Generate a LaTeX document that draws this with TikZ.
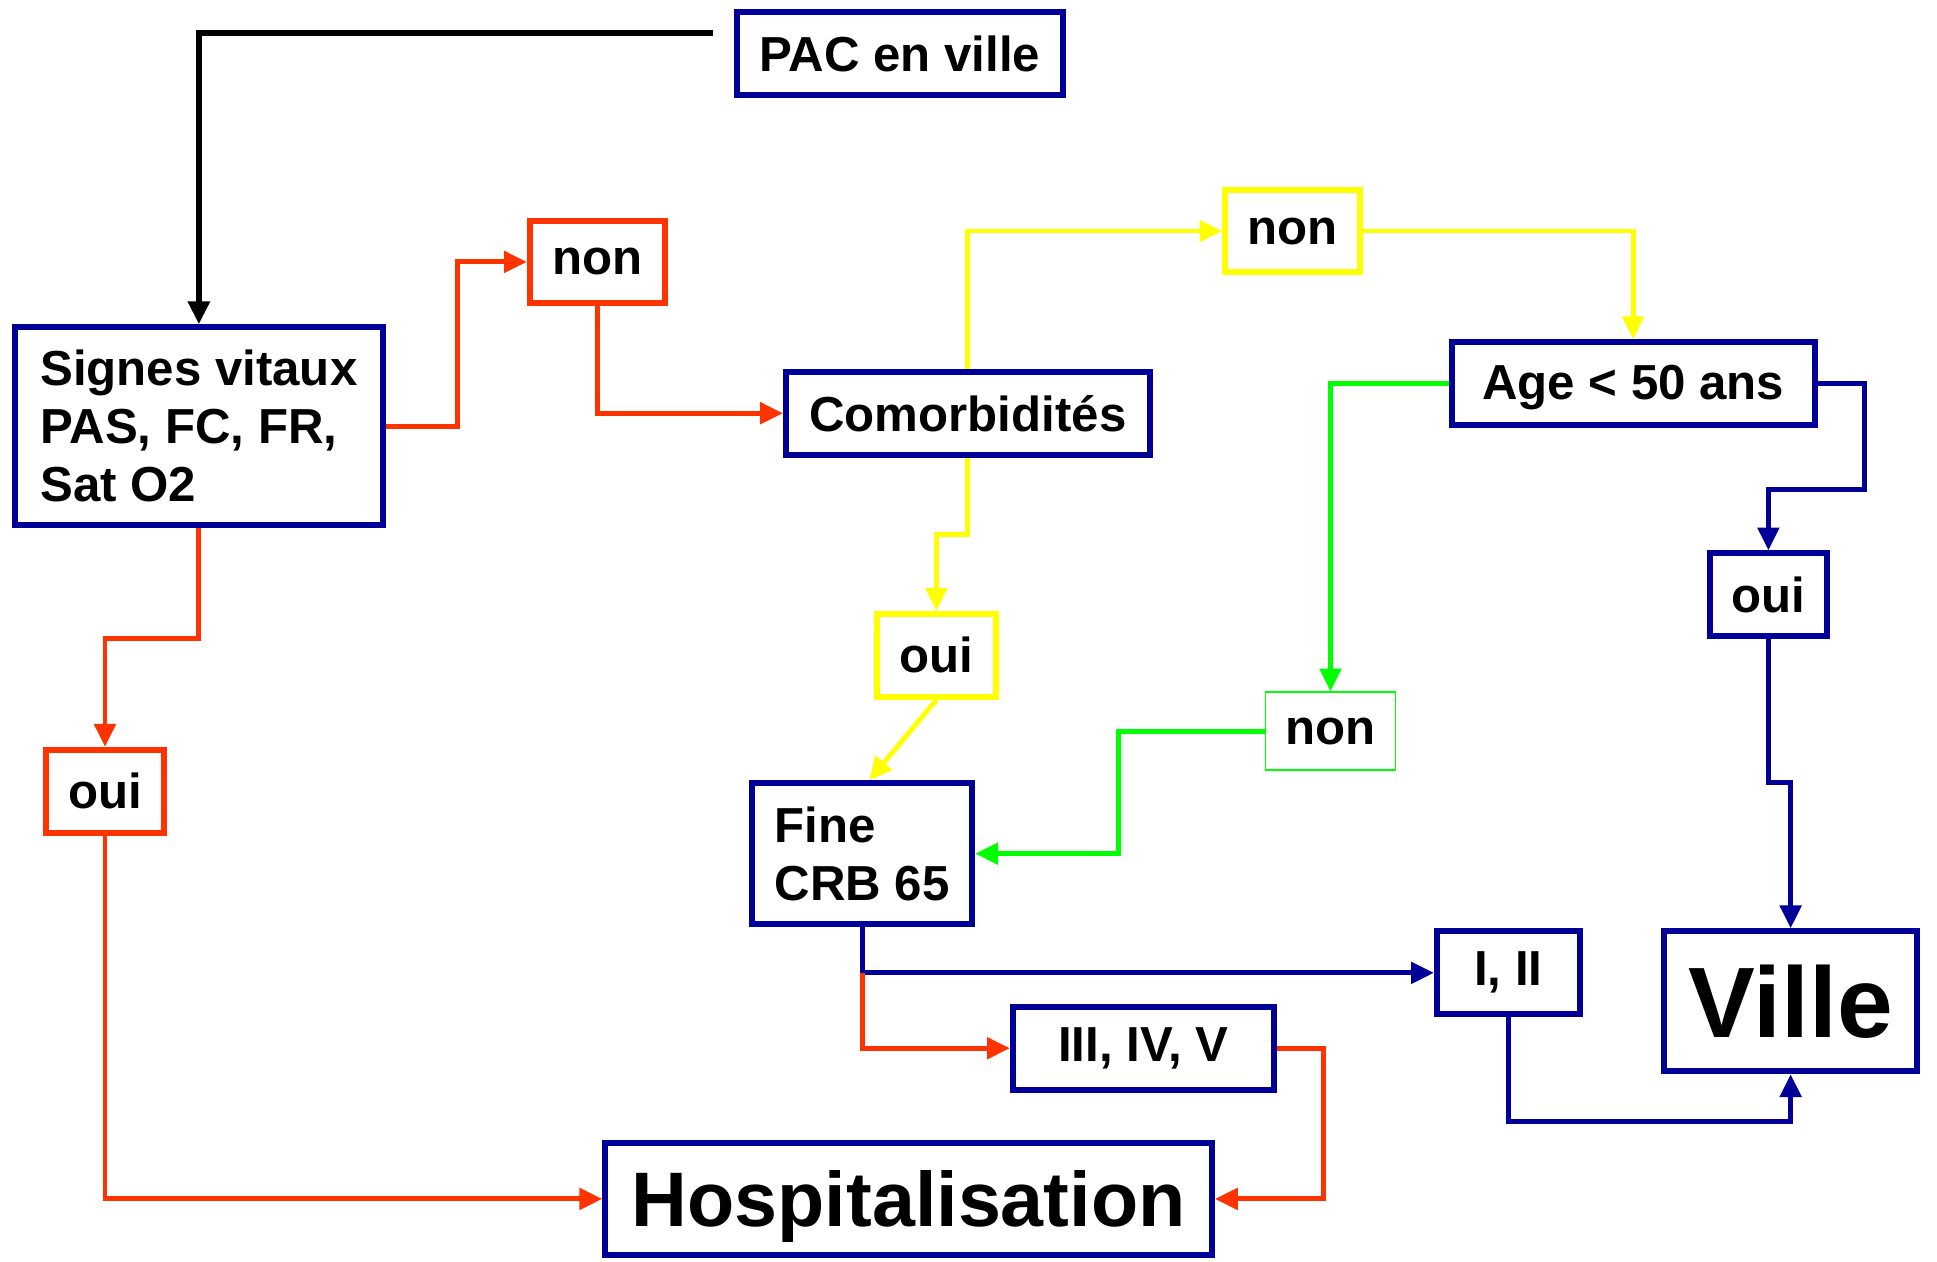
\documentclass[tikz,border=0pt]{standalone}
\usepackage{fontspec}
\setmainfont{Liberation Sans}
\usetikzlibrary{
  arrows.meta,
  positioning
}
\definecolor{pacblue}{RGB}{0,0,153}
\definecolor{pacred}{RGB}{255,51,0}
\definecolor{pacyellow}{RGB}{255,255,0}
\definecolor{pacgreen}{RGB}{0,255,0}
\tikzset{
  box/.style={
    draw=pacblue,
    line width=1.7pt,
    fill=white,
    inner sep=0pt,
    align=left,
    font=\bfseries\fontsize{14}{16.5}\selectfont
  },
  redbox/.style={box, draw=pacred},
  yellowbox/.style={box, draw=pacyellow},
  greenbox/.style={box, draw=pacgreen, line width=0.5pt},
  link/.style={
    -{Triangle[length=6.5pt,width=6pt]},
    line width=1.4pt
  }
}

\begin{document}
\begin{tikzpicture}[x=0.012353cm, y=-0.012353cm]
  \useasboundingbox (0,0) rectangle (1568,1021);
  % boxes
  \node[box, minimum width=3.27cm, minimum height=0.83cm] (pac) at (728.5,43.5) {PAC en ville};
  \node[box, minimum width=3.68cm, minimum height=1.98cm] (signes) at (161,345) {Signes vitaux\\PAS, FC, FR,\\Sat O2};
  \node[redbox, minimum width=1.35cm, minimum height=0.815cm] (nonrouge) at (483.5,212) {non};
  \node[box, minimum width=3.64cm, minimum height=0.83cm] (comorb) at (783.5,334.5) {Comorbidités};
  \node[yellowbox, minimum width=1.35cm, minimum height=0.815cm] (nonjaune) at (1046.5,187) {non};
  \node[box, minimum width=3.63cm, minimum height=0.83cm, text depth=1pt] (age) at (1322,310.5) {Age < 50 ans};
  \node[box, minimum width=1.17cm, minimum height=0.83cm] (ouibleu) at (1431.5,481.5) {oui};
  \node[yellowbox, minimum width=1.19cm, minimum height=0.83cm] (ouijaune) at (758,530.5) {oui};
  \node[redbox, minimum width=1.19cm, minimum height=0.83cm] (ouirouge) at (85,640.5) {oui};
  \node[greenbox, minimum width=1.30cm, minimum height=0.78cm] (nonvert) at (1077,592) {non};
  \node[box, minimum width=2.20cm, minimum height=1.41cm] (fine) at (698,691) {Fine\\CRB 65};
  \node[box, minimum width=1.43cm, minimum height=0.83cm] (classeI) at (1221,787.5) {I, II};
  \node[box, minimum width=2.61cm, minimum height=0.83cm] (classeIII) at (925.5,848.5) {III, IV, V};
  \node[box, minimum width=2.53cm, minimum height=1.40cm, font=\bfseries\fontsize{28.5}{30}\selectfont] (ville) at (1449.5,810.5) {Ville};
  \node[box, minimum width=6.07cm, minimum height=1.12cm, text depth=0pt, font=\bfseries\fontsize{22}{24}\selectfont] (hosp) at (735.5,970.5) {Hospitalisation};

  % connectors
  \coordinate (depart) at (577,27);
  \draw[link, line width=1.7pt] (depart) -| (signes.north);
  \draw[link, pacred] (signes.east) -- ++(58,0) |- (nonrouge.west);
  \draw[link, pacred] (nonrouge.south) |- (comorb.west);
  \draw[link, pacyellow] (comorb.north) |- (nonjaune.west);
  \draw[link, pacyellow] (nonjaune.east) -| (age.north);
  \draw[link, pacgreen] (age.west) -| (nonvert.north);
  \draw[link, pacblue] (age.east) -- ++(38,0) -- ++(0,86) -| (ouibleu.north);
  \draw[link, pacblue] (ouibleu.south) -- ++(0,116) -| (ville.north);
  \draw[link, pacyellow] (comorb.south) -- ++(0,62) -| (ouijaune.north);
  \draw[link, pacyellow] (ouijaune.south) -- ([xshift=2]fine.north);
  \draw[link, pacgreen] (nonvert.west) -- ++(-118,0) |- (fine.east);
  \coordinate (bifurc) at (fine.south |- classeI.west);
  \draw[link, pacblue] (fine.south) |- (classeI.west);
  \draw[link, pacred] (bifurc) |- (classeIII.west);
  \draw[link, pacred] (classeIII.east) -- ++(38,0) |- (hosp.east);
  \draw[link, pacred] (ouirouge.south) |- (hosp.west);
  \draw[link, pacred] (signes.south) -- ++(0,89) -| (ouirouge.north);
  \draw[link, pacblue] (classeI.south) -- ++(0,84) -| (ville.south);
\end{tikzpicture}
\end{document}
